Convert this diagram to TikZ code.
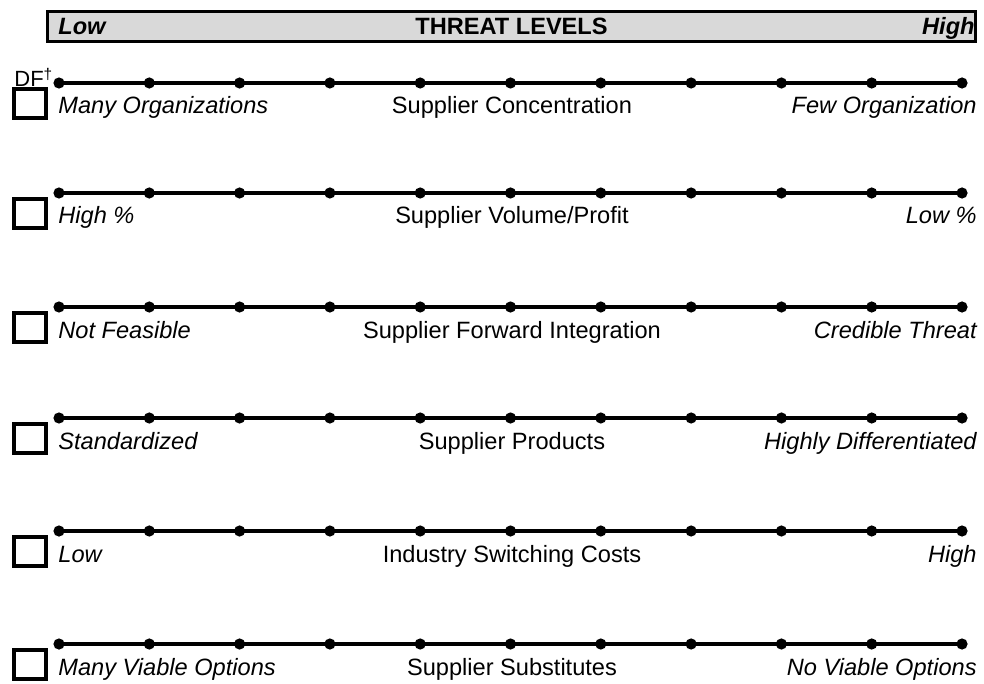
\documentclass[tikz,border=0pt]{standalone}
\usepackage{fontspec}
\setmainfont{Liberation Sans}

\tikzset{
  scale line/.style={line width=1.6pt},
  tick dot/.style={circle,fill=black,inner sep=0pt,minimum size=5.6pt},
  check box/.style={draw,line width=1.8pt,minimum width=16.2pt,minimum height=14.7pt,inner sep=0pt},
  end label/.style={font=\fontsize{11.8}{13}\selectfont\itshape,inner sep=0pt},
  mid label/.style={font=\fontsize{11.8}{13}\selectfont,inner sep=0pt,anchor=base},
  head box/.style={draw,line width=1.7pt,fill=gray!30,minimum width=464pt,minimum height=15pt,inner sep=0pt,
                   font=\fontsize{11.8}{13}\selectfont\bfseries}
}

\begin{document}
\begin{tikzpicture}[x=0.5pt,y=-0.5pt]
    \useasboundingbox (0,0) rectangle (984,684);

    % Header
    \node[head box] (threat) at (511.5,26.5) {THREAT LEVELS};
    \node[end label,font=\fontsize{11.8}{13}\selectfont\bfseries\itshape,anchor=base west] (low) at (58,35) {Low};
    \node[end label,font=\fontsize{11.8}{13}\selectfont\bfseries\itshape,anchor=base east] (high) at (975,35) {High};

    \node[inner sep=0pt,anchor=base west,font=\fontsize{11}{12}\selectfont] (df) at (14,87) {DF\textsuperscript{\textdagger}};

    % Scales
    \foreach \row/\yy/\lo/\mid/\hi in {
        conc/83/{Many Organizations}/{Supplier Concentration}/{Few Organization},
        volume/193/{High \%}/{Supplier Volume/Profit}/{Low \%},
        forward/307/{Not Feasible}/{Supplier Forward Integration}/{Credible Threat},
        products/418/{Standardized}/{Supplier Products}/{Highly Differentiated},
        switching/531/{Low}/{Industry Switching Costs}/{High},
        substitutes/644/{Many Viable Options}/{Supplier Substitutes}/{No Viable Options}}
    {
        \foreach \k in {0,...,10}
            \node[tick dot] (\row-d\k) at (59+90.3*\k,\yy) {};
        \draw[scale line] (\row-d0.center) -- (\row-d10.center);

        \node[check box] (\row-box) at (30,\yy+20.5) {};
        \node[end label,anchor=base west] (\row-lo) at (58,\yy+31) {\lo};
        \node[mid label] (\row-mid) at (512,\yy+31) {\mid};
        \node[end label,anchor=base east] (\row-hi) at (977,\yy+31) {\hi};
    }
\end{tikzpicture}
\end{document}
